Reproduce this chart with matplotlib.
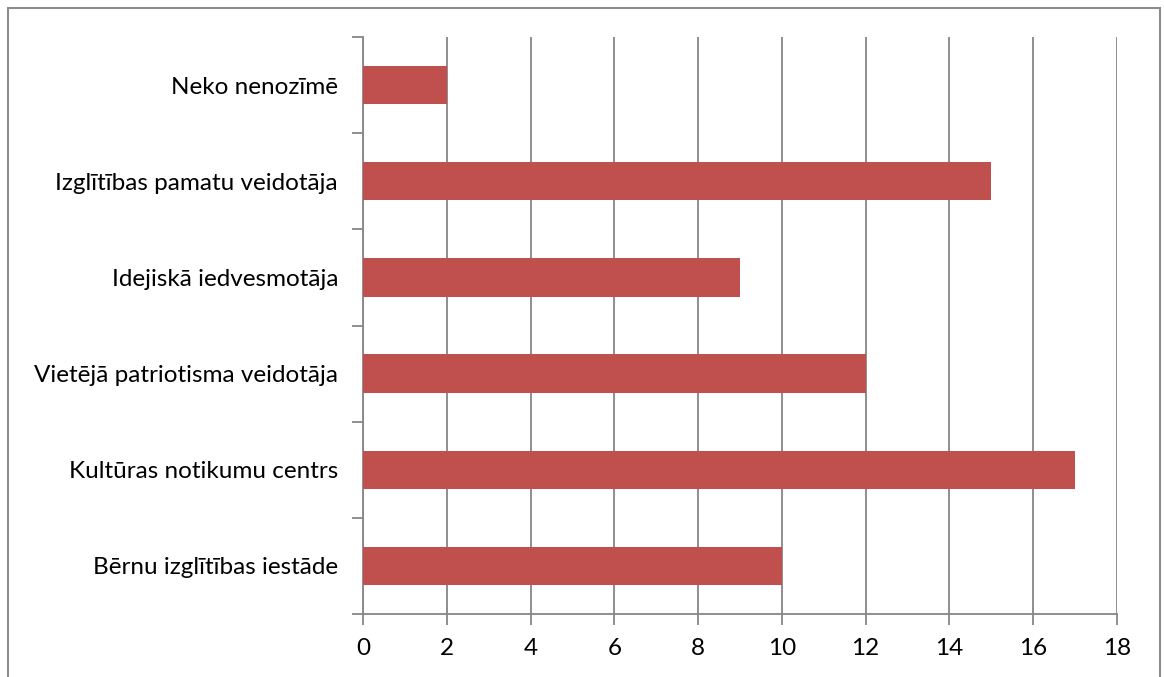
import matplotlib.pyplot as plt
import matplotlib.patches as mpatches
import numpy as np

categories = ["Bērnu izglītības iestāde",
              "Kultūras notikumu centrs",
              "Vietējā patriotisma veidotāja",
              "Idejiskā iedvesmotāja",
              "Izglītības pamatu veidotāja",
              "Neko nenozīmē"]
values = [10, 17, 12, 9, 15, 2]
xticks = list(range(0, 19, 2))

plt.rcParams['font.family'] = ['Lato', 'DejaVu Sans']

fig = plt.figure(figsize=(11.64, 6.77), dpi=100)
ax = fig.add_axes([363 / 1164, 1 - 614 / 677, (1117 - 363) / 1164, (614 - 37) / 677])

y = np.arange(len(categories))
ax.barh(y, values, height=0.4, color="#C0504D", zorder=3)

ax.set_xlim(0, 18)
ax.set_ylim(-0.5, len(categories) - 0.5)
ax.set_xticks(xticks)
ax.set_xticklabels([str(t) for t in xticks], fontsize=17.5)
ax.set_yticks(y)
ax.set_yticklabels(categories, fontsize=17.5)
ax.set_yticks(np.arange(-0.5, len(categories), 1), minor=True)

gray = "#868686"
ax.grid(axis="x", color=gray, linewidth=1.3, zorder=0)
for s in ["top", "right"]:
    ax.spines[s].set_visible(False)
for s in ["left", "bottom"]:
    ax.spines[s].set_color(gray)
    ax.spines[s].set_linewidth(1.3)

ax.tick_params(axis="y", which="major", length=0, pad=18)
ax.tick_params(axis="y", which="minor", length=8, color=gray, width=1.3)
ax.tick_params(axis="x", length=8, color=gray, width=1.3, pad=9)

border = mpatches.Rectangle((8 / 1164, -0.05), (1160 - 8) / 1164, 1 - 8 / 677 + 0.05,
                            transform=fig.transFigure, fill=False,
                            edgecolor="#8c8c8c", linewidth=1.5)
fig.patches.append(border)

fig.savefig("out.png", dpi=100)
